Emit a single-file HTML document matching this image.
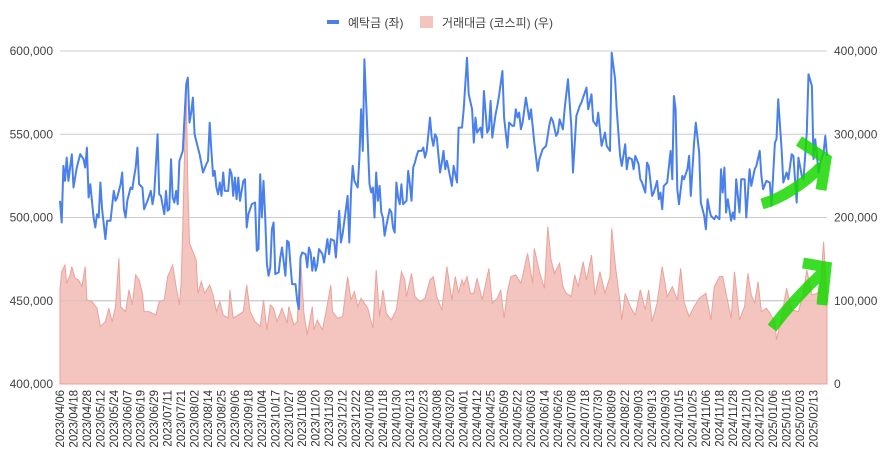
<!DOCTYPE html>
<html><head><meta charset="utf-8"><style>
body{margin:0;background:#fff;}
svg{display:block;font-family:"Liberation Sans","Noto Sans CJK KR",sans-serif;}
</style></head><body>
<svg id="c" width="891" height="463">
<g>
<rect x="327" y="20" width="12" height="4" fill="#4a80ec"/>
<text x="348" y="27" font-size="12" fill="#444">예탁금 (좌)</text>
<rect x="420" y="16" width="13" height="12" fill="#f4c4bf"/>
<text x="442" y="27" font-size="12" fill="#444">거래대금 (코스피) (우)</text>
</g>
</svg>
<script>
const depDay=[0,1,2,3,4,5,6,7,8,10,12,14,15,16,17,18,20,21,22,23,24,25,27,28,30,32,33,34,36,37,38,39,40,42,43,44,45,46,47,49,50,52,54,55,56,58,59,60,62,63,64,65,66,67,68,69,70,71,73,74,75,76,77,78,79,80,82,83,85,87,88,89,90,91,92,93,94,95,96,97,98,100,101,102,103,104,105,106,107,109,110,111,112,114,116,117,118,119,120,121,122,123,124,125,126,127,128,130,131,132,134,135,136,137,138,140,141,142,143,144,146,147,148,149,150,151,152,153,154,156,157,159,160,161,163,164,166,167,168,170,171,172,173,174,175,177,178,179,180,181,182,183,184,185,186,187,188,189,190,191,192,193,194,196,197,198,199,200,201,202,203,204,206,207,208,209,210,211,212,213,215,216,217,218,220,221,222,223,224,226,227,228,229,230,233,234,236,237,239,240,242,243,245,246,247,248,250,251,252,254,255,256,257,259,260,261,263,264,266,267,269,270,271,272,273,274,275,277,279,280,282,284,285,287,289,291,292,293,295,296,297,299,300,302,304,305,307,309,310,312,313,314,316,317,319,320,322,324,325,327,328,330,331,332,333,334,336,337,338,340,341,342,344,345,346,348,349,350,352,353,355,356,357,358,359,361,363,364,365,366,367,368,370,371,373,374,375,377,378,380,381,383,384,385,386,387,389,390,392,393,394,395,396,397,399,400,401,402,404,405,407,408,410,411,413,414,416,417,418,420,422,423,425,426,427,429,430,432,433,435,436,437,438,439,441,442,444,445,447,448,449,451,452,454,455,456];
const depVal=[510,497,531,522,536,522,530,538,518,530,538,535,530,542,512,520,500,494,502,500,521,505,487,498,498,516,510,512,520,527,505,500,510,518,517,524,530,542,520,518,505,510,516,508,514,550,514,513,502,516,504,505,535,512,509,516,508,534,540,560,580,584,557,563,572,550,542,538,527,532,534,557,540,525,528,518,514,521,513,527,516,516,529,526,513,524,511,524,510,522,523,494,502,508,509,480,481,526,500,522,500,472,465,470,493,497,466,467,476,482,465,486,485,472,460,460,450,445,476,479,478,470,482,479,468,476,468,472,481,478,473,487,478,487,486,476,504,485,490,505,513,485,515,531,522,518,536,565,540,595,570,545,520,515,518,500,527,510,519,503,500,489,495,505,503,494,491,521,512,508,520,508,510,528,520,510,530,533,537,540,540,542,536,540,560,548,543,550,548,527,533,540,529,534,519,531,521,554,554,565,596,574,565,545,560,551,554,548,576,551,553,570,548,562,567,573,588,560,542,557,555,555,565,560,563,553,557,572,559,565,545,528,535,541,543,556,560,558,549,551,559,553,565,583,555,527,561,567,569,575,578,565,574,558,555,563,543,551,543,540,599,583,565,551,537,531,544,529,536,535,529,537,532,523,521,515,533,531,513,515,522,511,515,505,519,521,540,523,573,565,517,508,525,523,529,537,513,545,557,539,509,501,493,511,505,501,499,501,499,529,515,530,503,511,498,503,499,523,503,523,523,500,529,519,529,531,540,525,517,522,521,507,545,547,571,541,521,527,523,538,537,523,509,536,525,523,551,586,579,535,547,527,533,539,549,537];
const volDay=[0,1,3,4,6,7,9,11,13,15,16,19,22,24,27,29,31,33,35,36,39,41,43,45,47,49,50,53,57,59,62,64,67,69,71,72,73,75,76,77,79,81,82,84,86,89,91,93,95,97,100,101,103,106,109,111,113,116,119,121,123,125,127,129,132,135,136,139,141,143,145,147,150,151,153,156,158,161,162,165,168,171,173,175,177,179,181,183,186,188,190,192,194,197,200,203,205,206,209,211,214,217,220,222,224,227,230,233,235,237,239,240,242,244,246,248,251,255,257,260,262,264,266,268,271,274,278,281,282,285,288,290,292,294,297,299,301,304,306,308,311,313,316,318,321,324,327,328,330,333,334,336,339,342,345,348,350,352,355,358,361,364,367,369,371,374,377,380,384,387,389,392,394,396,399,401,404,407,409,411,413,415,417,420,422,425,426,429,432,435,439,442,444,447,450,452,454,456];
const volVal=[113,135,143,121,131,141,127,125,117,141,101,99,91,69,75,91,75,93,151,93,87,113,95,131,125,109,87,87,83,99,101,129,143,117,95,121,189,363,241,169,159,149,109,123,109,119,107,87,99,83,79,113,79,83,87,119,87,75,69,101,65,95,91,75,91,73,93,71,75,151,85,59,93,65,77,65,85,119,87,79,81,129,101,111,93,103,97,91,67,137,81,113,85,77,89,135,125,105,133,105,99,103,125,129,105,89,141,101,129,109,125,119,129,109,109,127,101,139,97,103,113,79,111,129,131,121,157,121,163,135,115,189,149,133,145,117,109,105,131,117,147,125,155,107,135,109,129,187,145,97,77,109,93,83,113,89,113,75,97,141,105,117,101,139,99,81,93,103,109,77,117,129,129,109,79,135,77,93,133,107,97,123,87,91,85,75,53,81,115,89,87,109,137,107,109,113,171,101];
const leftTicks=[400000,450000,500000,550000,600000];
const rightTicks=[0,100000,200000,300000,400000];
const dateLabels=["2023/04/06","2023/04/18","2023/04/28","2023/05/12","2023/05/24","2023/06/07","2023/06/19","2023/06/29","2023/07/11","2023/07/21","2023/08/02","2023/08/14","2023/08/25","2023/09/06","2023/09/18","2023/10/04","2023/10/17","2023/10/27","2023/11/08","2023/11/20","2023/11/30","2023/12/12","2023/12/22","2024/01/08","2024/01/18","2024/01/30","2024/02/13","2024/02/23","2024/03/08","2024/03/20","2024/04/01","2024/04/12","2024/04/25","2024/05/09","2024/05/22","2024/06/03","2024/06/14","2024/06/26","2024/07/08","2024/07/18","2024/07/30","2024/08/09","2024/08/22","2024/09/03","2024/09/13","2024/09/30","2024/10/15","2024/10/25","2024/11/06","2024/11/18","2024/11/28","2024/12/10","2024/12/20","2025/01/06","2025/01/16","2025/02/03","2025/02/13"];

const NS="http://www.w3.org/2000/svg";
const svg=document.getElementById('c');
const X0=60,X1=827,Y0=384,Y1=51,DMAX=456;
const xs=d=>X0+d/DMAX*(X1-X0);
const yL=v=>Y0-(v-400000)/200000*(Y0-Y1);
const yR=v=>Y0-v/400000*(Y0-Y1);
function mk(t,a){const e=document.createElementNS(NS,t);for(const k in a)e.setAttribute(k,a[k]);svg.appendChild(e);return e;}
leftTicks.forEach((t,i)=>{
 const g=mk('line',{x1:X0,x2:X1,y1:yL(t),y2:yL(t),stroke:i==0?'#333':'#ccc','stroke-width':1});
 
 
 const tx=mk('text',{x:53,y:yL(t)+4,'font-size':12,fill:'#444','text-anchor':'end'});tx.textContent=t.toLocaleString('en-US');
 
 
});
rightTicks.forEach(t=>{
 const tx=mk('text',{x:834,y:yR(t)+4,'font-size':12,fill:'#444'});tx.textContent=t.toLocaleString('en-US');
 
 
});
let ap='M'+xs(volDay[0])+','+Y0;
volDay.forEach((d,i)=>{ap+=' L'+xs(d).toFixed(1)+','+yR(volVal[i]*1000).toFixed(1);});
ap+=' L'+xs(volDay[volDay.length-1])+','+Y0+' Z';
const area=mk('path',{d:ap,fill:'#f4c4bf',stroke:'#eaa29c','stroke-width':1});


const gl=mk('line',{x1:X0,x2:X1,y1:yL(450000),y2:yL(450000),stroke:'#bbb','stroke-opacity':0.5});


let lp='';
depDay.forEach((d,i)=>{lp+=(i?' L':'M')+xs(d).toFixed(1)+','+yL(depVal[i]*1000).toFixed(1);});
const line=mk('path',{d:lp,fill:'none',stroke:'#4a80ec','stroke-width':2,'stroke-linejoin':'round'});


dateLabels.forEach((s,i)=>{
 const x=xs(i*8)+4;
 const tx=mk('text',{x:x,y:390,'font-size':11.5,fill:'#333','text-anchor':'end',transform:'rotate(-90 '+x+' 390)'});tx.textContent=s;
 
 
});
const ac='rgba(25,215,0,0.85)';
const a1=mk('path',{d:'M762,204 Q792,195 822,166 M799,141 L826,159 L821,190',fill:'none',stroke:ac,'stroke-width':11});


const a2=mk('path',{d:'M772,328 Q795,298 822,273 M803,263 L826,267 L822,305',fill:'none',stroke:ac,'stroke-width':11});


</script>
</body></html>
